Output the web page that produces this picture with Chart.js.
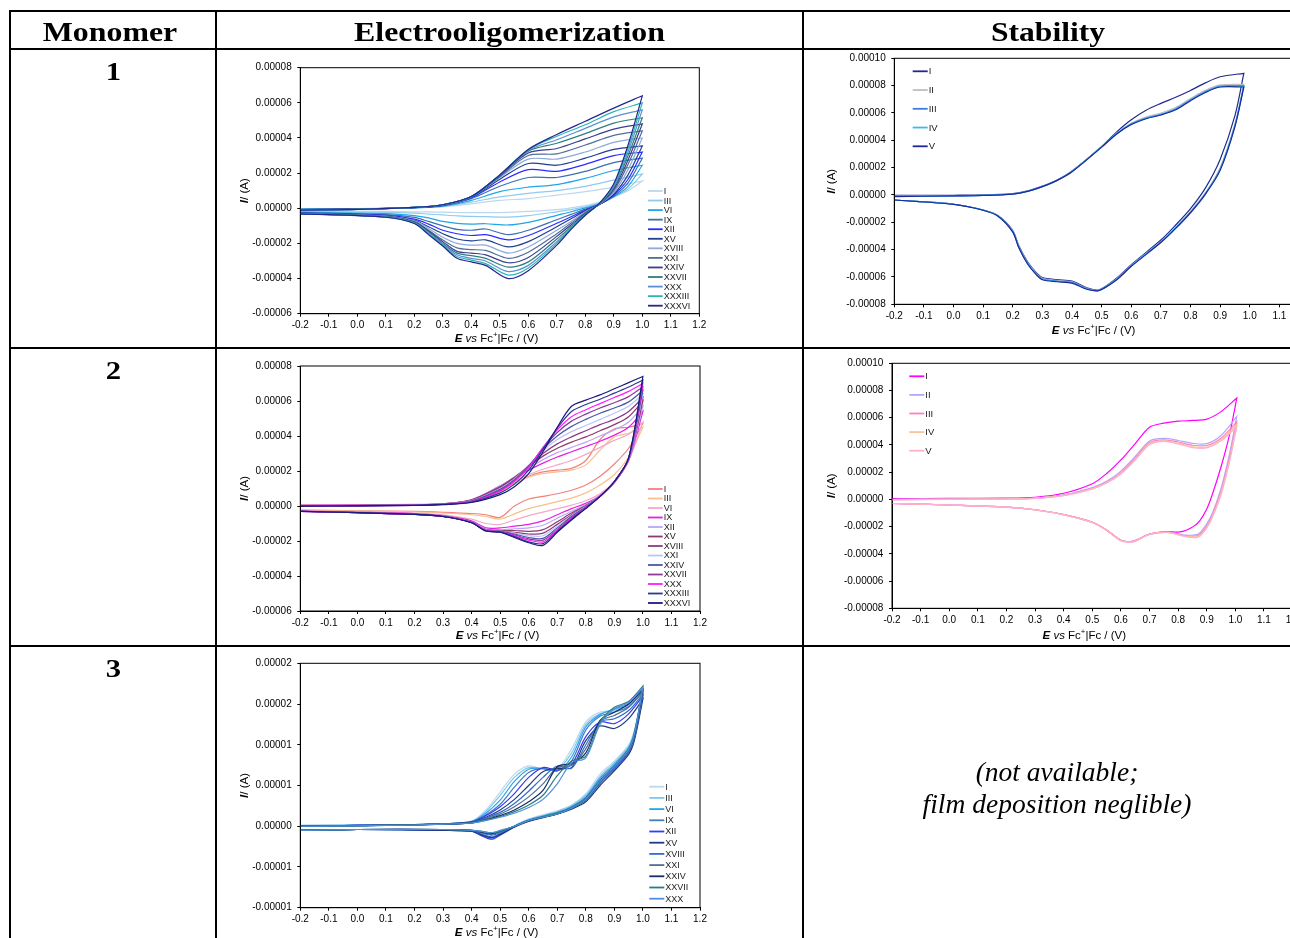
<!DOCTYPE html>
<html>
<head>
<meta charset="utf-8">
<title>Electrooligomerization and film stability</title>
<script src="https://cdn.jsdelivr.net/npm/chart.js@4.4.1/dist/chart.umd.min.js"></script>
<style>
  html, body { margin: 0; padding: 0; background: #fff; }
  body { position: relative; width: 1290px; height: 938px; overflow: hidden; }
  canvas { position: absolute; }
</style>
</head>
<body>
<canvas id="table" width="1290" height="938" style="left:0;top:0"></canvas>
<canvas id="cv1e"></canvas>
<canvas id="cv1s"></canvas>
<canvas id="cv2e"></canvas>
<canvas id="cv2s"></canvas>
<canvas id="cv3e"></canvas>
<script>
// ---------- axes ----------
const E_TICKS = [-0.2, -0.1, 0.0, 0.1, 0.2, 0.3, 0.4, 0.5, 0.6, 0.7, 0.8, 0.9, 1.0, 1.1, 1.2];
const E_LABELS = ['-0.2', '-0.1', '0.0', '0.1', '0.2', '0.3', '0.4', '0.5', '0.6', '0.7', '0.8', '0.9', '1.0', '1.1', '1.2'];

// currents are kept in µA, axis labels are written in A
const I_TICKS_ELECTRO = [-60, -40, -20, 0, 20, 40, 60, 80];
const I_LABELS_ELECTRO = ['-0.00006', '-0.00004', '-0.00002', '0.00000', '0.00002', '0.00004', '0.00006', '0.00008'];
const I_TICKS_STAB = [-80, -60, -40, -20, 0, 20, 40, 60, 80, 100];
const I_LABELS_STAB = ['-0.00008', '-0.00006', '-0.00004', '-0.00002', '0.00000', '0.00002', '0.00004', '0.00006', '0.00008', '0.00010'];
const I_TICKS_M3 = [-10, -5, 0, 5, 10, 15, 20];
const I_LABELS_M3 = ['-0.00001', '-0.00001', '0.00000', '0.00001', '0.00001', '0.00002', '0.00002'];

// ---------- monomer 1: electrooligomerization ----------
const M1_CYCLES = ['I', 'III', 'VI', 'IX', 'XII', 'XV', 'XVIII', 'XXI', 'XXIV', 'XXVII', 'XXX', 'XXXIII', 'XXXVI'];
const M1_COLORS = ['#bdd7ee', '#8fcbf0', '#1fa5e8', '#3c6fb0', '#2b2bff', '#1f3f8f', '#8ea9db', '#4f6f9a', '#3d3d8f', '#2e7f7a', '#5b8fd5', '#2bb5b5', '#26268f'];
const M1_FWD_E = [-0.2, 0.0, 0.2, 0.3, 0.4, 0.5, 0.6, 0.7, 0.8, 0.9, 1.0];
const M1_FWD = [
  [-0.3, -0.2, 0.2, 0.8, 2.5, 4.5, 5.5, 7.5, 9.5, 12, 15.5],
  [-0.4, -0.2, 0.3, 1.0, 3.5, 6.5, 8.5, 10, 12.5, 16, 19.5],
  [-0.5, -0.3, 0.3, 1.2, 4.5, 9.5, 12, 13.5, 17, 21.5, 24.5],
  [-0.6, -0.3, 0.4, 1.5, 5.5, 12.5, 17.5, 17.5, 21, 26, 28.5],
  [-0.7, -0.4, 0.4, 1.7, 6.0, 15, 22, 21, 25, 30, 32],
  [-0.7, -0.4, 0.4, 1.8, 6.3, 16.5, 25.5, 24.5, 28.5, 33.5, 35.5],
  [-0.8, -0.5, 0.5, 1.9, 6.5, 17.5, 28, 28, 32, 37.5, 40],
  [-0.8, -0.5, 0.5, 2.0, 6.6, 18, 30, 31, 36, 41.5, 44],
  [-0.9, -0.5, 0.5, 2.0, 6.7, 18.5, 31.5, 34, 39.5, 45, 48],
  [-0.9, -0.6, 0.5, 2.0, 6.7, 18.8, 32.5, 37, 42.5, 48.5, 51.5],
  [-0.9, -0.6, 0.5, 2.0, 6.7, 19, 33, 39, 45.5, 52, 56],
  [-1.0, -0.6, 0.5, 2.0, 6.7, 19, 33.5, 41, 47.5, 55, 60],
  [-1.0, -0.6, 0.5, 2.0, 6.7, 19, 33.5, 42, 49.5, 57, 64]
];
const M1_REV_E = [0.95, 0.9, 0.85, 0.8, 0.75, 0.7, 0.6, 0.53, 0.45, 0.4, 0.35, 0.3, 0.25, 0.2, 0.1, -0.2];
const M1_REV = [
  [10, 6.5, 3.5, 1.5, 0.2, -0.8, -1.8, -2.3, -2.5, -2.5, -2.4, -2.2, -2.1, -2.0, -1.8, -1.4],
  [11, 6.5, 3.0, 0.8, -0.8, -2.0, -4.2, -5.0, -4.8, -4.6, -4.3, -3.8, -3.3, -2.8, -2.3, -1.8],
  [12.5, 6.5, 2.5, 0.2, -2.0, -4.0, -8.0, -9.5, -8.8, -9.0, -8.6, -7.5, -5.5, -4.2, -3.0, -2.2],
  [14.5, 7, 2.3, -0.5, -3.5, -6.5, -12.5, -15, -11.8, -12.5, -12, -10, -7.5, -5.2, -3.6, -2.5],
  [16.5, 7.5, 2.2, -1.0, -4.8, -8.5, -15.5, -18, -15, -15.5, -14.5, -12.5, -9, -6.2, -4, -2.7],
  [19, 8, 2.2, -1.5, -6, -10.5, -19, -22, -18, -18.5, -17.5, -14.5, -10.5, -6.8, -4.3, -2.8],
  [22, 9, 2.3, -2.0, -7.5, -12.5, -22, -25.5, -21, -21, -20, -16.5, -11.5, -7.2, -4.5, -2.9],
  [25, 10, 2.4, -2.5, -8.5, -14.5, -25, -28.5, -24, -23.5, -22.5, -18, -12.5, -7.6, -4.7, -3.0],
  [27.5, 11, 2.5, -3.0, -9.5, -16, -28, -31, -26.5, -25.5, -24.5, -19, -13, -7.9, -4.8, -3.0],
  [30, 12, 2.6, -3.3, -10.5, -17.5, -30.5, -33.5, -28.5, -27, -25.5, -20, -13.5, -8.1, -4.9, -3.1],
  [32, 12.5, 2.7, -3.6, -11, -19, -32.5, -36, -30, -28.5, -26.5, -20.5, -14, -8.3, -5, -3.1],
  [34, 13.5, 2.8, -3.8, -11.5, -20, -34, -38, -31.5, -29.5, -27.5, -21, -14.5, -8.5, -5, -3.2],
  [36, 14, 2.9, -4.0, -12, -21, -35.5, -40, -32.5, -30.5, -28.5, -21.5, -15, -8.7, -5.1, -3.2]
];

// ---------- monomer 1: stability scans ----------
const S1_CYCLES = ['I', 'II', 'III', 'IV', 'V'];
const S1_COLORS = ['#202a8c', '#bfbfbf', '#3c7ce0', '#3fb8f0', '#1a2a9a'];
const S1_FWD_E = [-0.2, 0.0, 0.1, 0.2, 0.25, 0.3, 0.35, 0.4, 0.5, 0.55, 0.6, 0.65, 0.7, 0.75, 0.8, 0.85, 0.9, 0.98];
const S1_FWD = [
  [-0.3, -0.2, 0.0, 1.0, 3.0, 6.5, 11, 17.5, 35.5, 46, 55, 62, 67, 71.5, 76.5, 82, 86.5, 89],
  [-0.8, -0.5, -0.2, 0.8, 2.8, 6.3, 10.9, 17.3, 35.3, 45, 52.5, 57, 60, 64, 70.5, 76.5, 80.5, 81],
  [-1.0, -0.6, -0.3, 0.7, 2.7, 6.2, 10.8, 17.2, 35.2, 44.8, 52, 56.3, 59, 63, 69.7, 75.7, 79.7, 80],
  [-1.1, -0.7, -0.3, 0.6, 2.6, 6.1, 10.7, 17.1, 35.1, 44.6, 51.7, 56, 58.7, 62.6, 69.3, 75.3, 79.3, 79.5],
  [-1.2, -0.7, -0.4, 0.6, 2.6, 6.1, 10.7, 17.0, 35.0, 44.5, 51.5, 55.8, 58.5, 62.3, 69, 75, 79, 79]
];
const S1_REV_E = [0.95, 0.9, 0.85, 0.8, 0.75, 0.7, 0.6, 0.55, 0.49, 0.45, 0.4, 0.35, 0.3, 0.28, 0.25, 0.22, 0.2, 0.15, 0.1, 0.0, -0.2];
const S1_REV = [
  [58, 26, 5, -10, -22, -33, -51, -61, -69.5, -68, -63, -62, -60.5, -57, -49, -37, -26, -15, -11, -6.8, -3.7],
  [52, 20, 1.5, -12, -23.5, -34, -51.5, -61.5, -69.6, -68.3, -63.5, -62.5, -61, -57.5, -49.5, -37.5, -26.5, -15.2, -11, -6.8, -3.7],
  [51, 19, 1, -12.5, -24, -34.3, -51.8, -61.8, -69.8, -68.6, -64, -63, -61.5, -58, -50, -38, -26.8, -15.3, -11.1, -6.8, -3.7],
  [50.5, 18.5, 0.7, -12.8, -24.2, -34.5, -52, -62, -69.9, -68.8, -64.3, -63.3, -61.8, -58.2, -50.3, -38.3, -27, -15.4, -11.1, -6.8, -3.7],
  [50, 18, 0.5, -13, -24.5, -34.8, -52.2, -62.2, -70, -69, -64.5, -63.5, -62, -58.5, -50.5, -38.5, -27.2, -15.5, -11.2, -6.9, -3.7]
];

// ---------- monomer 2: electrooligomerization ----------
const M2_CYCLES = ['I', 'III', 'VI', 'IX', 'XII', 'XV', 'XVIII', 'XXI', 'XXIV', 'XXVII', 'XXX', 'XXXIII', 'XXXVI'];
const M2_COLORS = ['#f0827a', '#f8c08c', '#f5a8c8', '#e61ee6', '#b8a8f5', '#8e3a6a', '#8b3a8b', '#bcc4f8', '#4a58a8', '#8e3a98', '#ff1aff', '#2a3a8e', '#1a1a80'];
const M2_FWD_E = [-0.2, 0.0, 0.2, 0.3, 0.4, 0.5, 0.55, 0.6, 0.65, 0.7, 0.75, 0.8, 0.85, 0.9, 0.95, 1.0];
const M2_FWD = [
  [0.8, 0.8, 0.9, 1.2, 3.0, 9.0, 13.0, 17.0, 19.5, 20.5, 21.5, 26.0, 38.0, 44.0, 45.0, 47.0],
  [0.6, 0.6, 0.8, 1.1, 2.8, 8.5, 12.5, 16.5, 18.5, 19.5, 20.5, 23.5, 32.0, 39.5, 41.5, 45.0],
  [0.5, 0.5, 0.7, 1.1, 3.2, 10.0, 14.0, 18.0, 21.0, 23.5, 26.0, 29.5, 33.5, 37.5, 41.0, 48.0],
  [0.4, 0.5, 0.7, 1.2, 3.6, 11.5, 16.0, 20.5, 24.5, 28.0, 31.0, 34.0, 37.0, 40.5, 45.0, 54.0],
  [0.3, 0.4, 0.7, 1.2, 3.6, 11.5, 16.5, 21.5, 26.5, 30.5, 33.5, 36.5, 40.0, 43.5, 48.0, 57.0],
  [0.2, 0.4, 0.6, 1.2, 3.5, 11.0, 16.5, 22.5, 28.5, 33.0, 36.5, 39.5, 43.0, 46.5, 51.0, 60.0],
  [0.2, 0.3, 0.6, 1.1, 3.3, 10.5, 16.0, 23.0, 30.0, 35.5, 39.5, 43.0, 46.5, 49.5, 54.0, 62.0],
  [0.1, 0.3, 0.6, 1.1, 3.1, 10.0, 15.5, 23.0, 31.5, 38.0, 42.5, 46.0, 49.5, 53.0, 57.0, 64.0],
  [0.1, 0.2, 0.5, 1.0, 2.9, 9.5, 15.0, 23.0, 32.5, 40.0, 45.5, 49.5, 53.0, 56.0, 59.5, 66.0],
  [0.0, 0.2, 0.5, 1.0, 2.7, 9.0, 14.5, 22.5, 33.0, 42.0, 48.5, 52.5, 56.0, 59.0, 62.5, 68.0],
  [0.0, 0.1, 0.4, 0.9, 2.5, 8.5, 14.0, 22.0, 33.5, 43.5, 51.0, 55.0, 58.5, 62.0, 65.5, 70.0],
  [-0.1, 0.1, 0.4, 0.9, 2.3, 7.5, 12.5, 20.5, 32.5, 44.5, 54.0, 58.0, 61.0, 64.5, 68.0, 72.0],
  [-0.1, 0.1, 0.3, 0.8, 2.0, 6.5, 11.0, 18.5, 31.0, 45.0, 57.0, 60.5, 63.5, 67.0, 70.5, 74.0]
];
const M2_REV_E = [0.95, 0.9, 0.85, 0.8, 0.75, 0.7, 0.65, 0.6, 0.55, 0.5, 0.45, 0.4, 0.3, 0.2, 0.0, -0.2];
const M2_REV = [
  [33, 24, 17, 12, 9, 7, 5.5, 4, 0, -6.5, -5, -4.3, -3.6, -3.1, -2.7, -2.4],
  [28, 18, 12, 7.5, 4.5, 2.5, 0.5, -1.5, -4.5, -7.5, -6.0, -5.0, -4.0, -3.3, -2.9, -2.5],
  [26, 14, 7, 3, 0.5, -1.5, -3.5, -5.5, -8.0, -10.5, -10.0, -7.5, -5.0, -4.0, -3.3, -2.8],
  [26, 13.5, 6, 1.5, -1.5, -5.0, -8.5, -10.5, -11.5, -12.5, -12.5, -8.5, -5.5, -4.3, -3.5, -2.9],
  [26, 13.5, 5.8, 0.8, -3.0, -7.0, -11.0, -12.5, -13.0, -13.5, -13.0, -9.0, -5.7, -4.5, -3.6, -3.0],
  [26.5, 13.5, 5.6, 0.3, -4.0, -9.0, -13.5, -14.5, -14.0, -14.0, -13.5, -9.2, -5.8, -4.6, -3.7, -3.0],
  [26.5, 13.5, 5.5, 0, -5.0, -10.5, -15.5, -16.0, -15.0, -14.2, -13.8, -9.3, -5.9, -4.7, -3.7, -3.0],
  [26.5, 13.8, 5.5, -0.3, -5.5, -11.5, -17.0, -17.0, -15.5, -14.3, -13.8, -9.3, -5.9, -4.7, -3.8, -3.0],
  [27, 14, 5.5, -0.5, -6.0, -12.5, -18.5, -18.0, -16.0, -14.5, -14.0, -9.4, -6.0, -4.8, -3.8, -3.0],
  [27, 14, 5.5, -0.8, -6.5, -13.5, -19.5, -18.8, -16.5, -14.5, -14.0, -9.4, -6.0, -4.8, -3.8, -3.1],
  [27, 14, 5.5, -1.0, -7.0, -14.0, -20.5, -19.5, -17.0, -14.7, -14.0, -9.5, -6.0, -4.8, -3.8, -3.1],
  [27.5, 14, 5.5, -1.2, -7.5, -14.5, -21.5, -20.5, -17.5, -14.8, -14.2, -9.5, -6.0, -4.8, -3.8, -3.1],
  [27.5, 14, 5.5, -1.5, -8.0, -15.0, -22.5, -21.0, -18.0, -15.0, -14.3, -9.6, -6.0, -4.8, -3.8, -3.1]
];

// ---------- monomer 2: stability scans ----------
const S2_CYCLES = ['I', 'II', 'III', 'IV', 'V'];
const S2_COLORS = ['#ff00ff', '#b4a8f8', '#ff80c0', '#f8c49a', '#ffb0d0'];
const S2_FWD_E = [-0.2, 0.0, 0.2, 0.3, 0.4, 0.5, 0.55, 0.6, 0.65, 0.7, 0.75, 0.8, 0.85, 0.9, 0.95, 1.005];
const S2_FWD = [
  [0.6, 0.7, 0.9, 1.6, 4.5, 11.5, 19, 29, 41, 53, 56, 57.5, 58, 59, 64.5, 74.5],
  [0.1, 0.3, 0.5, 1.0, 3.3, 8.7, 13.3, 20.8, 31.5, 43, 44.8, 43.3, 41.2, 41, 47, 61],
  [-0.1, 0.2, 0.4, 0.9, 3.0, 8.1, 12.6, 19.7, 30.2, 41.8, 43.8, 42.2, 39.8, 39.6, 45, 57],
  [-0.2, 0.1, 0.3, 0.8, 2.9, 7.8, 12.2, 19.1, 29.4, 40.8, 43, 41.3, 38.7, 38.4, 43.8, 55],
  [-0.3, 0.0, 0.3, 0.8, 2.8, 7.6, 12, 18.7, 28.9, 40.2, 42.6, 40.8, 38.1, 37.9, 43, 53.5]
];
const S2_REV_E = [0.98, 0.95, 0.92, 0.9, 0.87, 0.83, 0.8, 0.76, 0.7, 0.65, 0.63, 0.6, 0.55, 0.5, 0.4, 0.3, 0.2, 0.0, -0.2];
const S2_REV = [
  [48, 24, 4, -7, -17, -22.5, -24, -23.6, -25.5, -30.3, -31, -30, -22.5, -16.8, -11.2, -7.6, -5.6, -4.1, -3.0],
  [34, 8, -10, -18, -25.5, -26.3, -25.3, -23.8, -25.5, -30.3, -31, -30, -22.5, -16.8, -11.2, -7.6, -5.6, -4.1, -3.0],
  [31, 6, -11.5, -19.5, -26.5, -26.8, -25.6, -24, -25.6, -30.4, -31.1, -30.1, -22.6, -16.9, -11.2, -7.6, -5.6, -4.1, -3.0],
  [29, 4.5, -12.5, -20.5, -27.2, -27.2, -25.8, -24.2, -25.7, -30.6, -31.3, -30.2, -22.7, -16.9, -11.3, -7.7, -5.6, -4.1, -3.0],
  [28, 3.5, -13, -21, -27.8, -27.5, -26, -24.3, -25.8, -30.8, -31.5, -30.4, -22.8, -17, -11.3, -7.7, -5.6, -4.1, -3.0]
];

// ---------- monomer 3: electrooligomerization ----------
const M3_CYCLES = ['I', 'III', 'VI', 'IX', 'XII', 'XV', 'XVIII', 'XXI', 'XXIV', 'XXVII', 'XXX'];
const M3_COLORS = ['#bdd7ee', '#7fc6f0', '#2ea2e8', '#3f7fc0', '#3a3af5', '#1f3a80', '#2e6fd0', '#4f6f8f', '#1a2a6a', '#2a7f7a', '#4f8fdf'];
const M3_FWD_E = [-0.2, 0.0, 0.2, 0.3, 0.4, 0.45, 0.5, 0.55, 0.6, 0.65, 0.7, 0.75, 0.8, 0.85, 0.9, 0.95, 1.0];
const M3_FWD = [
  [0.1, 0.15, 0.2, 0.3, 0.6, 2.0, 4.2, 6.4, 7.4, 7.0, 7.0, 9.5, 12.8, 14.0, 14.2, 14.8, 16.3],
  [0.1, 0.15, 0.2, 0.3, 0.6, 1.8, 3.8, 6.0, 7.2, 7.0, 6.9, 9.0, 12.5, 13.8, 14.3, 14.9, 16.5],
  [0.05, 0.1, 0.2, 0.3, 0.6, 1.6, 3.2, 5.5, 7.0, 7.1, 6.8, 8.5, 12.2, 13.7, 14.4, 15.0, 16.8],
  [0.0, 0.1, 0.2, 0.3, 0.55, 1.4, 2.7, 4.8, 6.6, 7.1, 6.8, 8.0, 11.8, 13.5, 14.0, 14.7, 16.6],
  [0.0, 0.1, 0.2, 0.3, 0.5, 1.3, 2.4, 4.0, 6.0, 7.2, 6.9, 7.6, 11.0, 12.8, 12.6, 13.8, 16.0],
  [0.0, 0.1, 0.2, 0.3, 0.5, 1.1, 2.0, 3.3, 5.0, 6.7, 7.1, 7.2, 10.5, 12.3, 12.0, 13.2, 15.6],
  [0.0, 0.1, 0.2, 0.25, 0.45, 1.0, 1.7, 2.8, 4.3, 6.0, 7.4, 7.1, 10.0, 12.8, 13.2, 14.2, 16.2],
  [0.0, 0.05, 0.2, 0.25, 0.4, 0.9, 1.5, 2.4, 3.6, 5.2, 7.2, 7.5, 9.5, 12.9, 13.6, 14.6, 16.5],
  [0.0, 0.05, 0.2, 0.25, 0.4, 0.8, 1.3, 2.0, 3.0, 4.4, 7.3, 7.7, 9.0, 13.0, 14.0, 15.0, 16.8],
  [0.0, 0.05, 0.15, 0.25, 0.4, 0.75, 1.2, 1.8, 2.6, 3.8, 6.2, 8.0, 8.6, 12.8, 14.6, 15.3, 17.2],
  [0.0, 0.05, 0.15, 0.25, 0.4, 0.7, 1.1, 1.6, 2.3, 3.3, 5.2, 7.8, 8.4, 12.5, 14.4, 15.2, 17.0]
];
const M3_REV_E = [0.97, 0.95, 0.9, 0.85, 0.8, 0.75, 0.7, 0.6, 0.55, 0.5, 0.47, 0.43, 0.4, 0.3, 0.0, -0.2];
const M3_REV = [
  [11.8, 10.0, 8.0, 6.4, 4.0, 2.6, 1.9, 0.9, 0.1, -0.9, -1.4, -0.9, -0.6, -0.5, -0.4, -0.5],
  [11.6, 9.8, 7.8, 6.1, 3.8, 2.5, 1.8, 0.8, 0.0, -1.0, -1.5, -1.0, -0.6, -0.5, -0.4, -0.5],
  [11.5, 9.6, 7.6, 5.9, 3.6, 2.4, 1.7, 0.8, 0.0, -1.0, -1.4, -1.0, -0.6, -0.5, -0.4, -0.5],
  [11.2, 9.4, 7.4, 5.7, 3.5, 2.3, 1.6, 0.7, 0.0, -0.9, -1.3, -0.9, -0.6, -0.5, -0.4, -0.5],
  [10.8, 9.0, 7.0, 5.3, 3.2, 2.2, 1.5, 0.7, -0.1, -1.1, -1.6, -1.1, -0.6, -0.5, -0.4, -0.5],
  [10.5, 8.8, 6.8, 5.0, 3.0, 2.1, 1.5, 0.6, -0.1, -1.0, -1.4, -1.0, -0.6, -0.5, -0.4, -0.5],
  [10.8, 9.1, 7.1, 5.3, 3.2, 2.2, 1.5, 0.7, 0.0, -0.8, -1.1, -0.8, -0.5, -0.4, -0.4, -0.5],
  [11.0, 9.2, 7.2, 5.4, 3.3, 2.2, 1.5, 0.7, 0.0, -0.7, -1.0, -0.7, -0.5, -0.4, -0.4, -0.5],
  [11.2, 9.4, 7.3, 5.5, 3.3, 2.2, 1.5, 0.7, 0.0, -0.6, -0.9, -0.7, -0.5, -0.4, -0.4, -0.5],
  [11.4, 9.5, 7.4, 5.6, 3.4, 2.3, 1.6, 0.7, 0.0, -0.6, -0.8, -0.6, -0.5, -0.4, -0.4, -0.5],
  [11.3, 9.4, 7.3, 5.5, 3.3, 2.2, 1.5, 0.7, 0.0, -0.5, -0.8, -0.6, -0.5, -0.4, -0.4, -0.5]
];

// ---------- drawing ----------
const SANS = '"Liberation Sans", Arial, Helvetica, sans-serif';
const SERIF = '"Liberation Serif", "Times New Roman", serif';

// one voltammogram: anodic sweep, then cathodic sweep from the switching vertex
function sweepLoop(fwdE, fwdI, revE, revI) {
  const pts = fwdE.map((e, i) => ({ x: e, y: fwdI[i] }));
  pts.push({ x: fwdE[fwdE.length - 1], y: fwdI[fwdI.length - 1] }); // sharp turn at the vertex
  revE.forEach((e, i) => pts.push({ x: e, y: revI[i] }));
  return pts;
}

const plotFrame = {
  id: 'plotFrame',
  afterDraw(chart) {
    const { ctx, chartArea: a } = chart;
    ctx.save();
    ctx.strokeStyle = '#000';
    ctx.lineWidth = 1;
    ctx.strokeRect(a.left, a.top, a.right - a.left, a.bottom - a.top);
    ctx.restore();
  }
};

const axisTitles = {
  id: 'axisTitles',
  afterDraw(chart, _args, o) {
    const { ctx, chartArea: a } = chart;
    const s = o.size;
    const xParts = [
      ['E', `italic bold ${s}px ${SANS}`, 0],
      [' vs', `italic ${s}px ${SANS}`, 0],
      [' Fc', `${s}px ${SANS}`, 0],
      ['+', `${(s * 0.68).toFixed(1)}px ${SANS}`, -s * 0.36],
      ['|Fc / (V)', `${s}px ${SANS}`, 0]
    ];
    const yParts = [
      ['I', `italic bold ${s}px ${SANS}`, 0],
      ['/ (A)', `${s}px ${SANS}`, 0]
    ];
    const run = (parts, cx, cy) => {
      let w = 0;
      parts.forEach(p => { ctx.font = p[1]; w += ctx.measureText(p[0]).width; });
      let x = cx - w / 2;
      parts.forEach(p => { ctx.font = p[1]; ctx.fillText(p[0], x, cy + p[2]); x += ctx.measureText(p[0]).width; });
    };
    ctx.save();
    ctx.fillStyle = '#000';
    ctx.textAlign = 'left';
    ctx.textBaseline = 'middle';
    run(xParts, (a.left + a.right) / 2 + o.xdx, a.bottom + o.xdy);
    ctx.translate(a.left + o.ydx, (a.top + a.bottom) / 2);
    ctx.rotate(-Math.PI / 2);
    run(yParts, 0, 0);
    ctx.restore();
  }
};

const cycleLegend = {
  id: 'cycleLegend',
  afterDatasetsDraw(chart, _args, o) {
    const { ctx, chartArea: a } = chart;
    const ds = chart.data.datasets;
    ctx.save();
    ctx.font = `${o.size}px ${SANS}`;
    ctx.textAlign = 'left';
    ctx.textBaseline = 'middle';
    ds.forEach((d, i) => {
      const x0 = o.corner === 'bottom-right' ? a.right - o.dx : a.left + o.dx;
      const y = o.corner === 'bottom-right'
        ? a.bottom - o.dy - (ds.length - 1 - i) * o.gap
        : a.top + o.dy + i * o.gap;
      ctx.strokeStyle = d.borderColor;
      ctx.lineWidth = 1.8;
      ctx.beginPath();
      ctx.moveTo(x0, y);
      ctx.lineTo(x0 + o.len, y);
      ctx.stroke();
      ctx.fillStyle = '#1a1a1a';
      ctx.fillText(d.label, x0 + o.len + 1, y + 0.5);
    });
    ctx.restore();
  }
};

function cvChart(id, box, area, iTicks, iLabels, names, colors, fwdE, fwd, revE, rev, legend, titles) {
  const cv = document.getElementById(id);
  cv.width = box.w;
  cv.height = box.h;
  cv.style.left = box.x + 'px';
  cv.style.top = box.y + 'px';
  const datasets = names.map((n, i) => ({
    label: n,
    data: sweepLoop(fwdE, fwd[i], revE, rev[i]),
    borderColor: colors[i],
    backgroundColor: colors[i],
    borderWidth: 1.2,
    showLine: true,
    pointRadius: 0,
    tension: 0.3,
    fill: false,
    order: names.length - i
  }));
  const tickFont = { family: SANS, size: 10 };
  new Chart(cv, {
    type: 'scatter',
    data: { datasets },
    options: {
      responsive: false,
      animation: false,
      devicePixelRatio: 1,
      layout: { padding: { top: area.t - box.y, right: box.x + box.w - area.r, left: 0, bottom: 0 } },
      plugins: {
        legend: { display: false },
        tooltip: { enabled: false },
        cycleLegend: legend,
        axisTitles: titles
      },
      scales: {
        x: {
          type: 'linear', position: 'bottom', min: -0.2, max: 1.2,
          afterBuildTicks: s => { s.ticks = E_TICKS.map(v => ({ value: v })); },
          afterFit: s => { s.height = box.y + box.h - area.b; s.paddingLeft = 0; s.paddingRight = 0; },
          ticks: { callback: (v, i) => E_LABELS[i], autoSkip: false, maxRotation: 0, minRotation: 0, padding: 3, color: '#000', font: tickFont },
          grid: { display: true, drawOnChartArea: false, drawTicks: true, tickLength: 3, color: '#000', lineWidth: 1 },
          border: { display: true, color: '#000', width: 1 }
        },
        y: {
          type: 'linear', position: 'left', min: iTicks[0], max: iTicks[iTicks.length - 1],
          afterBuildTicks: s => { s.ticks = iTicks.map(v => ({ value: v })); },
          afterFit: s => { s.width = area.l - box.x; s.paddingTop = 0; s.paddingBottom = 0; },
          ticks: { callback: (v, i) => iLabels[i], autoSkip: false, padding: 5.6, color: '#000', font: tickFont },
          grid: { display: true, drawOnChartArea: false, drawTicks: true, tickLength: 3, color: '#000', lineWidth: 1 },
          border: { display: true, color: '#000', width: 1 }
        }
      }
    },
    plugins: [plotFrame, axisTitles, cycleLegend]
  });
}

// ---------- table ----------
(function drawTable() {
  const c = document.getElementById('table').getContext('2d');
  c.fillStyle = '#fff';
  c.fillRect(0, 0, 1290, 938);
  c.fillStyle = '#000';
  // horizontal rules
  c.fillRect(9, 10, 1290, 2);
  c.fillRect(9, 48, 1290, 2);
  c.fillRect(9, 347, 1290, 2);
  c.fillRect(9, 645, 1290, 2);
  // vertical rules
  c.fillRect(9, 10, 2, 928);
  c.fillRect(215, 10, 2, 928);
  c.fillRect(802, 10, 2, 928);
  c.fillRect(1291, 10, 2, 928);
  const txt = (s, cx, base, font, sx) => {
    c.save();
    c.font = font;
    c.textAlign = 'center';
    c.textBaseline = 'alphabetic';
    c.translate(cx, base);
    c.scale(sx, 1);
    c.fillText(s, 0, 0);
    c.restore();
  };
  const head = `bold 27px ${SERIF}`;
  txt('Monomer', 110, 41, head, 1.18);
  txt('Electrooligomerization', 509.5, 41, head, 1.18);
  txt('Stability', 1048, 41, head, 1.17);
  const num = `bold 26px ${SERIF}`;
  txt('1', 113.5, 80, num, 1.18);
  txt('2', 113.5, 379.3, num, 1.18);
  txt('3', 113.5, 676.7, num, 1.18);
  const note = `italic 27.5px ${SERIF}`;
  txt('(not available;', 1057, 781, note, 1);
  txt('film deposition neglible)', 1057, 813, note, 1);
})();

// ---------- charts ----------
cvChart('cv1e', { x: 230, y: 52, w: 480, h: 294 }, { l: 300.3, t: 67.7, r: 699.3, b: 313.7 },
  I_TICKS_ELECTRO, I_LABELS_ELECTRO, M1_CYCLES, M1_COLORS, M1_FWD_E, M1_FWD, M1_REV_E, M1_REV,
  { corner: 'bottom-right', dx: 51.3, dy: 8, gap: 9.56, len: 14.7, size: 9 },
  { size: 11.5, xdx: -3.3, xdy: 24.8, ydx: -55.3 });

cvChart('cv1s', { x: 808, y: 50, w: 520, h: 296 }, { l: 894.3, t: 58.3, r: 1309, b: 304.3 },
  I_TICKS_STAB, I_LABELS_STAB, S1_CYCLES, S1_COLORS, S1_FWD_E, S1_FWD, S1_REV_E, S1_REV,
  { corner: 'top-left', dx: 18.4, dy: 13, gap: 18.75, len: 15, size: 9.5 },
  { size: 11.5, xdx: -8, xdy: 26.7, ydx: -62.6 });

cvChart('cv2e', { x: 230, y: 352, w: 480, h: 291 }, { l: 300.3, t: 366, r: 700, b: 611 },
  I_TICKS_ELECTRO, I_LABELS_ELECTRO, M2_CYCLES, M2_COLORS, M2_FWD_E, M2_FWD, M2_REV_E, M2_REV,
  { corner: 'bottom-right', dx: 52, dy: 8, gap: 9.5, len: 14.7, size: 9 },
  { size: 11.5, xdx: -2.7, xdy: 25, ydx: -55.3 });

cvChart('cv2s', { x: 808, y: 352, w: 520, h: 291 }, { l: 892, t: 363.3, r: 1292.6, b: 608.3 },
  I_TICKS_STAB, I_LABELS_STAB, S2_CYCLES, S2_COLORS, S2_FWD_E, S2_FWD, S2_REV_E, S2_REV,
  { corner: 'top-left', dx: 17.3, dy: 13, gap: 18.6, len: 15, size: 9.5 },
  { size: 11.5, xdx: -8, xdy: 27.4, ydx: -60.3 });

cvChart('cv3e', { x: 230, y: 650, w: 480, h: 288 }, { l: 300.3, t: 663.3, r: 700, b: 907.7 },
  I_TICKS_M3, I_LABELS_M3, M3_CYCLES, M3_COLORS, M3_FWD_E, M3_FWD, M3_REV_E, M3_REV,
  { corner: 'bottom-right', dx: 50.7, dy: 9, gap: 11.2, len: 15, size: 9 },
  { size: 11.5, xdx: -3.5, xdy: 25.3, ydx: -55.3 });
</script>
</body>
</html>
